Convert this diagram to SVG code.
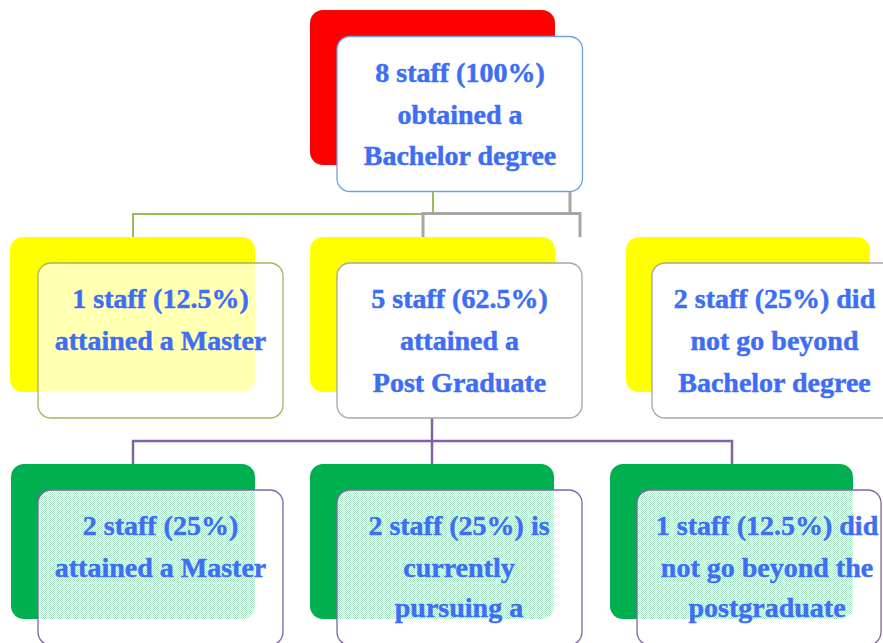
<svg xmlns="http://www.w3.org/2000/svg" width="883" height="643" viewBox="0 0 883 643">
  <style>
    .back { stroke: none; }
    .box { stroke-width: 1.3; }
    .lbl { font-family: "Liberation Serif", "Times New Roman", serif; font-weight: bold; font-size: 28px; fill: #3d6ef5; stroke: #3d6ef5; stroke-width: 0.5; text-anchor: middle; }
    .conn { fill: none; }
  </style>
  <defs>
    <pattern id="dither" width="2" height="2" patternUnits="userSpaceOnUse">
      <rect x="0" y="0" width="2" height="2" fill="#ffffff" fill-opacity="0.68"/>
      <rect x="1" y="0" width="1" height="1" fill="#ffffff"/>
      <rect x="0" y="1" width="1" height="1" fill="#ffffff"/>
    </pattern>
  </defs>
  <rect width="883" height="643" fill="#ffffff"/>

  <g id="connectors">
    <polyline class="conn" points="133,237 133,214 433,214 433,192" stroke="#9bbb59" stroke-width="2"/>
    <polyline class="conn" points="570,192 570,213.5" stroke="#a6a6a6" stroke-width="3"/>
    <polyline class="conn" points="423,237 423,213.5 580,213.5 580,237" stroke="#a6a6a6" stroke-width="3"/>
    <polyline class="conn" points="432,418 432,464" stroke="#8064a2" stroke-width="2.5"/>
    <polyline class="conn" points="133,464 133,441 732,441 732,464" stroke="#8064a2" stroke-width="2.5"/>
  </g>

  <g id="node-top">
    <rect class="back" x="310" y="10" width="245" height="155" rx="13" fill="#ff0000"/>
    <rect class="box" x="337" y="36.5" width="245.5" height="155" rx="13" fill="#ffffff" stroke="#6fa3d8"/>
    <text class="lbl" x="460" y="82">8 staff (100%)</text>
    <text class="lbl" x="460" y="123.5">obtained a</text>
    <text class="lbl" x="460" y="165">Bachelor degree</text>
  </g>

  <g id="node-master">
    <rect class="back" x="10" y="237" width="245" height="155" rx="13" fill="#ffff00"/>
    <rect class="box" x="38" y="263" width="245" height="155" rx="13" fill="url(#dither)" stroke="#9bbb59"/>
    <text class="lbl" x="160.5" y="308">1 staff (12.5%)</text>
    <text class="lbl" x="160.5" y="350">attained a Master</text>
  </g>

  <g id="node-postgrad">
    <rect class="back" x="310" y="237" width="245" height="155" rx="13" fill="#ffff00"/>
    <rect class="box" x="337" y="263" width="245" height="155" rx="13" fill="#ffffff" stroke="#a6a6a6"/>
    <text class="lbl" x="459.5" y="308">5 staff (62.5%)</text>
    <text class="lbl" x="459.5" y="350">attained a</text>
    <text class="lbl" x="459.5" y="392">Post Graduate</text>
  </g>

  <g id="node-bachelor-only">
    <rect class="back" x="626" y="237" width="244" height="155" rx="13" fill="#ffff00"/>
    <rect class="box" x="652" y="263" width="245" height="155" rx="13" fill="#ffffff" stroke="#a6a6a6"/>
    <text class="lbl" x="774.5" y="308">2 staff (25%) did</text>
    <text class="lbl" x="774.5" y="350">not go beyond</text>
    <text class="lbl" x="774.5" y="392">Bachelor degree</text>
  </g>

  <g id="node-pg-master">
    <rect class="back" x="11" y="464" width="244" height="155" rx="13" fill="#00b050"/>
    <rect class="box" x="38" y="490" width="245" height="155" rx="13" fill="url(#dither)" stroke="#8064a2"/>
    <text class="lbl" x="160.5" y="535">2 staff (25%)</text>
    <text class="lbl" x="160.5" y="577">attained a Master</text>
  </g>

  <g id="node-pg-pursuing">
    <rect class="back" x="310" y="464" width="244" height="155" rx="13" fill="#00b050"/>
    <rect class="box" x="337" y="490" width="245" height="155" rx="13" fill="url(#dither)" stroke="#8064a2"/>
    <text class="lbl" x="459" y="535">2 staff (25%) is</text>
    <text class="lbl" x="459" y="577">currently</text>
    <text class="lbl" x="459" y="617">pursuing a</text>
  </g>

  <g id="node-pg-only">
    <rect class="back" x="610" y="464" width="243" height="155" rx="13" fill="#00b050"/>
    <rect class="box" x="637" y="490" width="244" height="155" rx="13" fill="url(#dither)" stroke="#8064a2"/>
    <text class="lbl" x="767" y="535">1 staff (12.5%) did</text>
    <text class="lbl" x="767" y="577">not go beyond the</text>
    <text class="lbl" x="767" y="617">postgraduate</text>
  </g>
</svg>
